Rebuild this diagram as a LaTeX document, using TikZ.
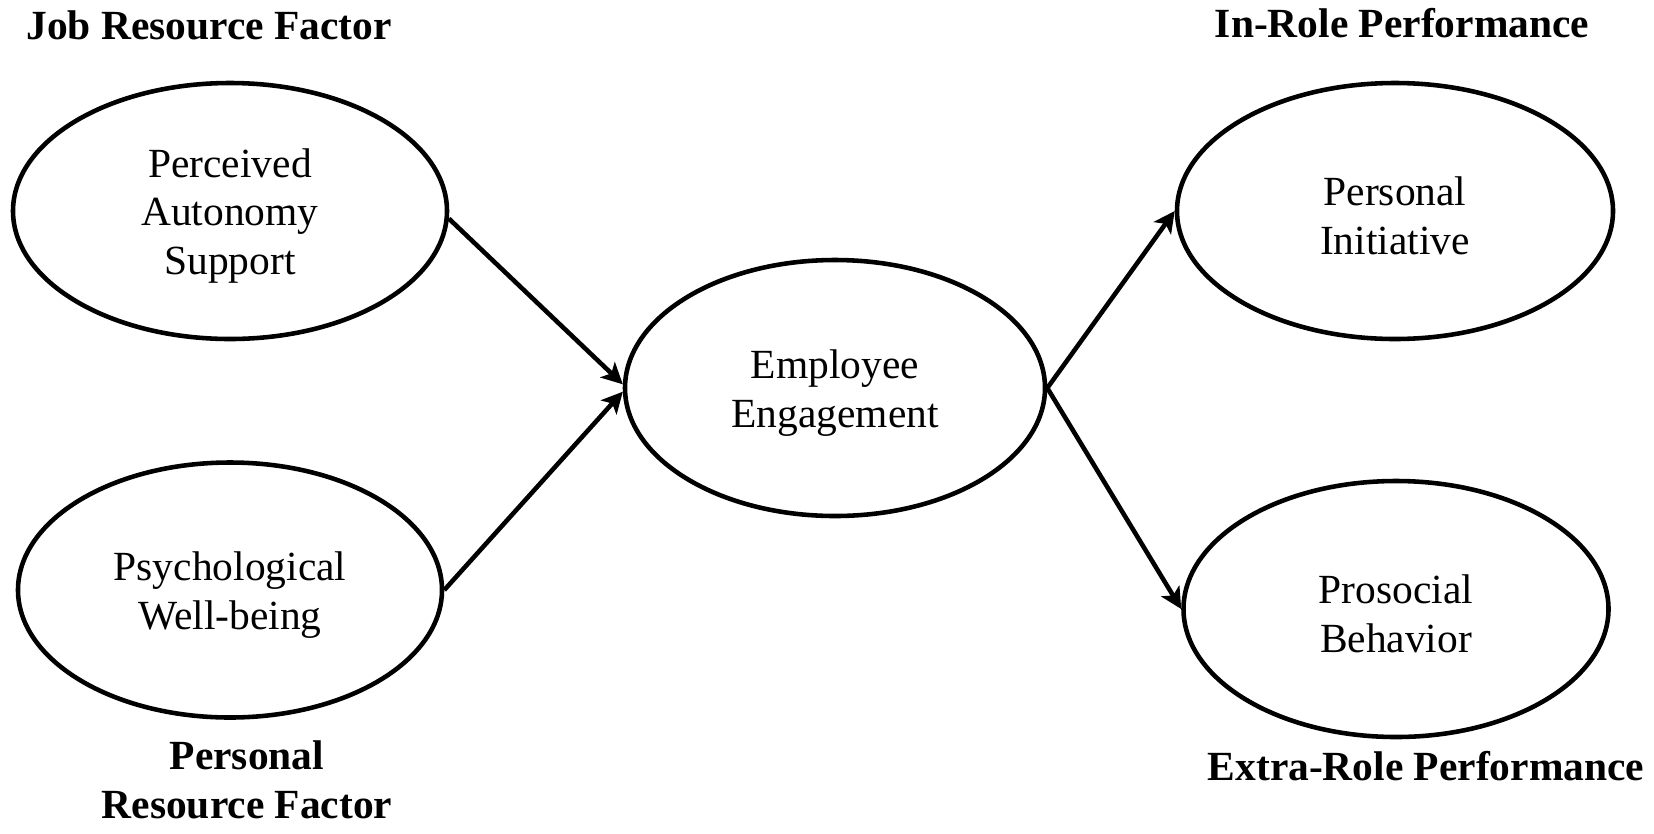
\documentclass[tikz,border=0pt]{standalone}
\usepackage{fontspec}
\setmainfont{Liberation Serif}
\usetikzlibrary{arrows.meta, shapes.geometric}

% first-line strut, sets the text a little below the ellipse centre
\newcommand{\capstrut}{\rule{0pt}{11pt}}

\begin{document}
\begin{tikzpicture}[
    construct/.style={ellipse, draw, line width=1.3pt, align=center, inner sep=0pt,
        font=\fontsize{11.8}{13.9}\selectfont},
    heading/.style={align=center, font=\fontsize{11.8}{13.9}\selectfont\bfseries},
    path/.style={line width=1.3pt, -{Stealth[length=6pt, width=6pt, inset=1.5pt]}}
]
\useasboundingbox (0,0) rectangle (16.54,8.33);

\node[construct, minimum width=4.34cm, minimum height=2.56cm] (autonomySupport) at (2.30, 6.22) {\capstrut Perceived\\Autonomy\\Support};
\node[construct, minimum width=4.24cm, minimum height=2.55cm] (wellBeing) at (2.30, 2.43) {\capstrut Psychological\\Well-being};
\node[construct, minimum width=4.20cm, minimum height=2.56cm] (engagement) at (8.35, 4.45) {\capstrut Employee\\Engagement};
\node[construct, minimum width=4.36cm, minimum height=2.56cm] (initiative) at (13.95, 6.22) {\capstrut Personal\\Initiative};
\node[construct, minimum width=4.25cm, minimum height=2.56cm] (prosocial) at (13.96, 2.24) {\capstrut Prosocial\\Behavior};

\node[heading] (jobLabel) at (2.09, 8.08) {Job Resource Factor};
\node[heading] (personalLabel) at (2.47, 0.53) {Personal\\Resource Factor};
\node[heading] (inRoleLabel) at (14.02, 8.10) {In-Role Performance};
\node[heading] (extraRoleLabel) at (14.26, 0.67) {Extra-Role Performance};

\draw[path] (autonomySupport.-2.4) -- (engagement.179);
\draw[path] (wellBeing.0.8) -- (engagement.181);
\draw[path] (engagement.0.5) -- (initiative.180.8);
\draw[path] (engagement.-0.5) -- (prosocial.west);

\end{tikzpicture}
\end{document}
